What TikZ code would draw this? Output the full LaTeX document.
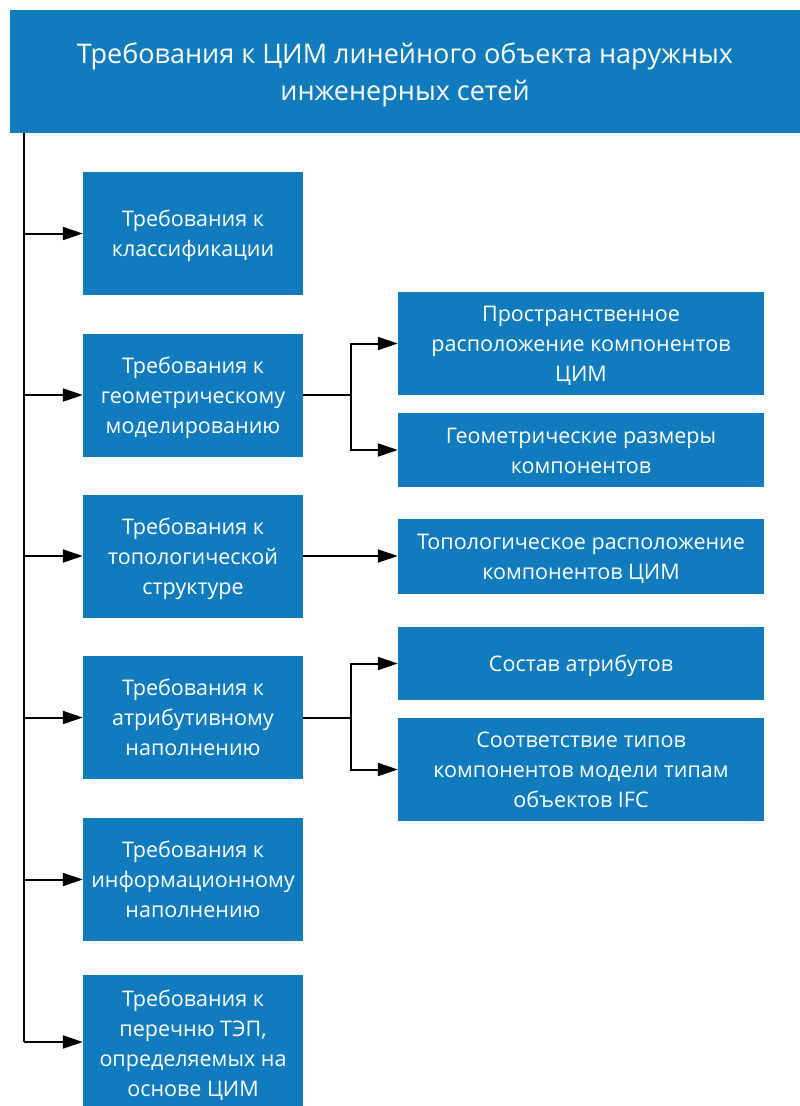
\documentclass[tikz,border=0pt]{standalone}
\usepackage{fontspec}
\setmainfont{Open Sans}
\usetikzlibrary{arrows.meta}
\definecolor{boxblue}{RGB}{16,124,189}
\newcommand{\tstr}{\rule{0pt}{22pt}}
\newcommand{\bstr}{\rule[-6pt]{0pt}{6pt}}
\newcommand{\ttstr}{\rule{0pt}{27pt}}
\newcommand{\tbstr}{\rule[-7pt]{0pt}{7pt}}
\begin{document}
\begin{tikzpicture}[x=1pt,y=-1pt,
  box/.style={fill=boxblue, draw=none, text=white, align=center, inner sep=0pt,
    font=\fontsize{21.5}{30}\selectfont},
  lbox/.style={box, minimum width=220pt, minimum height=123pt},
  rbox/.style={box, minimum width=366pt},
  conn/.style={line width=2pt, draw=black},
  arr/.style={conn, -{Triangle[length=20pt,width=13pt]}}]
\useasboundingbox (0,0) rectangle (800,1106);
% title
\node[box, minimum width=790pt, minimum height=123pt, font=\fontsize{27}{37}\selectfont]
  (title) at (405,71.5) {\ttstr Требования к ЦИМ линейного объекта наружных\\инженерных сетей\tbstr};
% left boxes
\node[lbox] (L1) at (193,233.5) {\tstr Требования к\\классификации\bstr};
\node[lbox] (L2) at (193,395) {\tstr Требования к\\геометрическому\\моделированию\bstr};
\node[lbox] (L3) at (193,556) {\tstr Требования к\\топологической\\структуре\bstr};
\node[lbox] (L4) at (193,717.5) {\tstr Требования к\\атрибутивному\\наполнению\bstr};
\node[lbox] (L5) at (193,879.5) {\tstr Требования к\\информационному\\наполнению\bstr};
\node[lbox, minimum height=136pt] (L6) at (193,1043) {\tstr Требования к\\перечню ТЭП,\\определяемых на\\основе ЦИМ\bstr};
% right boxes
\node[rbox, minimum height=103pt] (R1) at (581,343.5) {\tstr Пространственное\\расположение компонентов\\ЦИМ\bstr};
\node[rbox, minimum height=74pt] (R2) at (581,450) {\tstr Геометрические размеры\\компонентов\bstr};
\node[rbox, minimum height=75pt] (R3) at (581,556) {\tstr Топологическое расположение\\компонентов ЦИМ\bstr};
\node[rbox, minimum height=73pt] (R4) at (581,663.5) {\tstr Состав атрибутов\bstr};
\node[rbox, minimum height=103pt] (R5) at (581,769.5) {\tstr Соответствие типов\\компонентов модели типам\\объектов IFC\bstr};
% trunk
\coordinate (trunktop) at (24,133);
\coordinate (trunkbot) at (24,1042);
\draw[conn] (trunktop) -- (trunkbot);
\draw[arr] (trunktop |- L1.west) -- (L1.west);
\draw[arr] (trunktop |- L2.west) -- (L2.west);
\draw[arr] (trunktop |- L3.west) -- (L3.west);
\draw[arr] (trunktop |- L4.west) -- (L4.west);
\draw[arr] (trunktop |- L5.west) -- (L5.west);
\draw[arr] (trunkbot) -- (trunkbot -| L6.west);
% branches
\coordinate (b2) at (351,395);
\coordinate (b4) at (351,717.5);
\draw[conn] (L2.east) -- (b2);
\draw[arr] (b2) |- (R1.west);
\draw[arr] (b2) |- (R2.west);
\draw[arr] (L3.east) -- (R3.west);
\draw[conn] (L4.east) -- (b4);
\draw[arr] (b4) |- (R4.west);
\draw[arr] (b4) |- (R5.west);
\end{tikzpicture}
\end{document}
